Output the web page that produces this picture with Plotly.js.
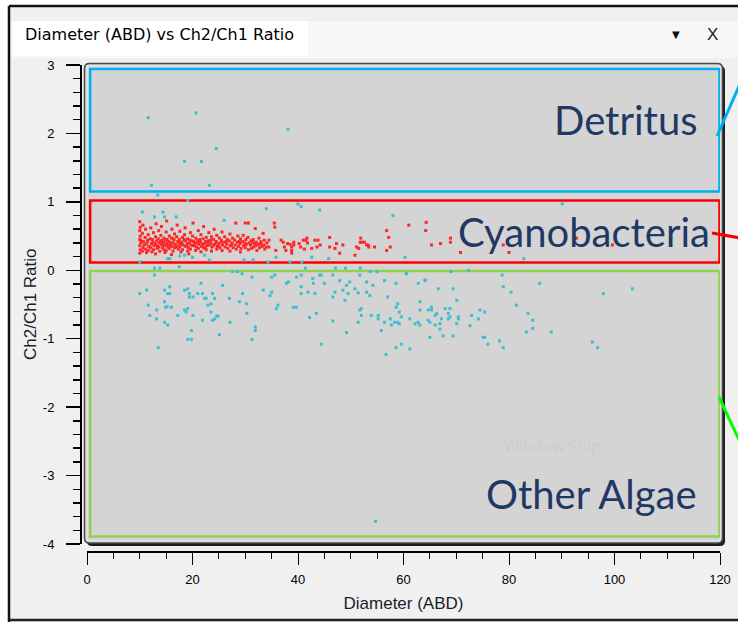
<!DOCTYPE html>
<html><head><meta charset="utf-8">
<script src="https://cdn.plot.ly/plotly-3.0.1.min.js"></script>
<style>html,body{margin:0;padding:0;background:#fff;} #chart{width:738px;height:622px;}</style>
</head><body><div id="chart"></div>
<script>
// ---------- axis settings ----------
const xRange = [0, 120];
const yRange = [-4, 3];
const xTicks = [0, 20, 40, 60, 80, 100, 120];
const yTicks = [-4, -3, -2, -1, 0, 1, 2, 3];
const yTickText = ['-4', '-3', '-2', '-1', '0', '1', '2', '3'];
const xTitle = 'Diameter (ABD)';
const yTitle = 'Ch2/Ch1 Ratio';

// ---------- gate regions ----------
const regionNames = ['Detritus', 'Cyanobacteria', 'Other Algae'];
const regionColors = ['#00b0f0', '#ff0000', '#92d050'];
const regionX0 = [0.6, 0.6, 0.6];
const regionX1 = [119.9, 119.9, 119.9];
const regionY0 = [1.15, 0.115, -3.89];
const regionY1 = [2.94, 1.02, -0.01];
const labelX = [116.3, 118.4, 116.1];
const labelY = [2.20, 0.56, -3.27];

// ---------- red points (Cyanobacteria) ----------
const redCore1 = [[10.0,.71],[10.1,.63],[10.0,.58],[10.1,.50],[10.0,.45],[10.2,.40],[10.0,.36],[10.1,.30],[10.0,.25],
 [10.6,.66],[10.5,.54],[10.7,.42],[10.6,.33],[10.5,.28],[11.1,.60],[11.0,.48],[11.2,.38],[11.1,.31],[11.3,.26],
 [11.6,.52],[11.5,.44],[11.7,.35],[11.6,.29],[12.1,.62],[12.0,.46],[12.2,.39],[12.1,.33],[12.3,.27],
 [12.6,.55],[12.5,.41],[12.7,.36],[12.6,.30],[13.1,.68],[13.0,.49],[13.2,.43],[13.1,.37],[13.3,.32],[13.0,.24],
 [13.6,.58],[13.5,.46],[13.7,.40],[13.6,.34],[13.8,.28],[14.1,.64],[14.0,.51],[14.2,.44],[14.1,.38],[14.3,.33],
 [14.6,.47],[14.5,.41],[14.7,.36],[14.6,.30],[14.8,.26],[15.1,.72],[15.0,.56],[15.2,.45],[15.1,.39],[15.3,.34],[15.0,.29]];
const redCore2 = [[15.6,.50],[15.5,.42],[15.7,.37],[15.6,.32],[16.1,.60],[16.0,.47],[16.2,.40],[16.1,.35],[16.3,.28],[16.0,.23],
 [16.6,.53],[16.5,.44],[16.7,.38],[16.6,.33],[17.1,.66],[17.0,.49],[17.2,.42],[17.1,.36],[17.3,.31],
 [17.6,.57],[17.5,.45],[17.7,.39],[17.6,.34],[17.8,.27],[18.1,.48],[18.0,.41],[18.2,.37],[18.1,.30],
 [18.6,.62],[18.5,.52],[18.7,.43],[18.6,.35],[19.1,.46],[19.0,.39],[19.2,.33],[19.1,.28],[19.3,.24],
 [19.6,.55],[19.5,.44],[19.7,.37],[19.6,.31],[20.1,.69],[20.0,.50],[20.2,.42],[20.1,.36],
 [20.6,.47],[20.5,.40],[20.7,.34],[20.6,.29],[21.1,.58],[21.0,.44],[21.2,.38],[21.1,.32],
 [21.6,.52],[21.5,.41],[21.7,.35],[21.6,.27],[22.1,.64],[22.0,.46],[22.2,.39],[22.1,.33]];
const redCore3 = [[22.6,.48],[22.5,.42],[22.7,.36],[22.6,.30],[23.1,.55],[23.0,.43],[23.2,.37],
 [23.6,.49],[23.5,.40],[23.7,.34],[23.6,.28],[24.1,.60],[24.0,.45],[24.2,.38],
 [24.6,.51],[24.5,.42],[24.7,.35],[24.6,.31],[25.1,.47],[25.0,.39],[25.2,.33],
 [25.6,.56],[25.5,.44],[25.7,.37],[25.6,.29],[26.1,.49],[26.0,.41],[26.2,.34],
 [26.6,.45],[26.5,.38],[26.7,.32],[27.1,.53],[27.0,.43],[27.2,.36],[27.1,.28],
 [27.6,.47],[27.5,.40],[27.7,.33],[28.2,.69],[28.0,.44],[28.1,.37],[28.3,.31],
 [28.6,.50],[28.5,.41],[28.7,.35],[29.1,.46],[29.0,.39],[29.2,.32],[29.1,.27],
 [29.6,.51],[29.5,.42],[29.7,.36],[30.0,.69],[30.1,.45],[30.2,.38],[30.0,.33],
 [30.6,.69],[30.5,.48],[30.7,.40],[30.6,.30],[31.1,.43],[31.0,.37],[31.2,.32],
 [31.9,.61],[31.5,.45],[31.7,.39],[31.6,.34],[32.1,.41],[32.0,.36],[32.2,.29],
 [32.6,.47],[32.5,.38],[32.7,.33],[33.4,.54],[33.0,.42],[33.2,.35],[33.6,.44],[33.5,.37],[33.7,.31],[34.1,.40],[34.0,.34]];
const redCore4 = [[10.3,.43],[10.8,.37],[11.4,.41],[11.9,.34],[12.4,.45],[12.9,.39],[13.4,.35],[13.9,.42],[14.4,.38],[14.9,.44],[15.4,.36],[15.9,.40],
 [16.4,.46],[16.9,.34],[17.4,.41],[17.9,.38],[18.4,.45],[18.9,.36],[19.4,.40],[19.9,.43],[20.4,.37],[20.9,.41],[21.4,.45],[21.9,.38],
 [22.4,.33],[22.9,.40],[23.4,.44],[23.9,.36],[24.4,.40],[24.9,.35],[25.4,.41],[26.4,.42],[27.4,.37],[28.9,.42],[29.9,.40],[31.4,.41],[32.9,.39]];
const redSparse = [[34.5,.44],[34.5,.34],[35.5,.69],[35.6,.63],[35.8,.29],[36.8,.44],[37.2,.41],[37.4,.34],[37.7,.29],[38.0,.39],
 [38.5,.38],[38.8,.34],[38.8,.29],[38.8,.25],[39.2,.41],[39.2,.37],[40.2,.39],[40.5,.34],[41.0,.44],[41.5,.44],
 [41.7,.47],[41.2,.31],[41.8,.40],[42.6,.32],[43.2,.44],[43.8,.44],[43.6,.34],[44.2,.37],[46.0,.48],[46.0,.34],
 [47.0,.32],[47.3,.39],[47.9,.25],[48.5,.37],[50.8,.22],[51.1,.34],[51.5,.32],[51.9,.47],[52.1,.41],[51.8,.41],
 [52.6,.41],[53.0,.37],[53.3,.37],[53.4,.34],[54.5,.34],[56.8,.58],[57.2,.48],[56.8,.29],[57.5,.34],[61.0,.66],
 [64.3,.70],[64.2,.58],[65.3,.37],[67.0,.39],[68.9,.47],[68.9,.41],[70.8,.26],[77.9,.48],[78.9,.37],[80.0,.26],[92.8,.47],[99.6,.37]];

// ---------- cyan points (other particles) ----------
const cyanHigh = [[11.6,2.23],[20.7,2.30],[38.1,2.06],[24.5,1.78],[18.5,1.59],[21.7,1.59],[12.2,1.24],[23.2,1.24],[13.4,1.10],
 [10.5,0.85],[12.8,0.78],[14.4,0.85],[14.7,0.78],[16.9,0.78],[19.1,1.02],[26.0,0.73],[34.0,0.90],[40.0,0.97],[40.6,0.93],
 [44.1,0.88],[58.0,0.80],[90.1,0.97]];
const cyanZero = [[10.0,0.12],[15.3,0.17],[15.7,0.17],[17.6,0.21],[18.5,0.22],[20.0,0.19],[22.3,0.22],[23.2,0.15],[29.8,0.15],
 [31.5,0.15],[34.3,0.12],[35.8,0.19],[38.5,0.12],[40.7,0.12],[42.6,0.19],[41.4,0.03],[45.8,0.17],[47.1,0.03],[49.0,0.03],
 [51.8,0.03],[12.8,0.03],[13.8,0.03],[17.5,0.05],[60.3,0.19],[82.8,0.17],[60.6,-0.05],[69.0,-0.02],[72.3,0.0],[78.7,-0.07],[64.1,-0.14]];
const cyanLowA = [[10.0,-0.34],[11.3,-0.29],[12.8,-0.07],[11.6,-0.51],[11.9,-0.66],[13.2,-0.58],[13.2,-0.71],[13.5,-1.13],
 [14.7,-0.29],[15.7,-0.24],[15.3,-0.34],[15.7,-0.34],[14.7,-0.46],[14.9,-0.54],[15.2,-0.53],[16.0,-0.54],[14.7,-0.76],[15.3,-0.80],[17.2,-0.66],
 [18.5,-0.29],[19.1,-0.27],[19.4,-0.34],[19.4,-0.39],[20.1,-0.39],[18.5,-0.58],[18.8,-0.61],[19.1,-0.56],[20.1,-0.66],[19.8,-0.88],[19.1,-1.01],[19.8,-1.01],
 [21.0,-0.34],[21.6,-0.19],[21.9,-0.34],[22.3,-0.41],[22.6,-0.41],[22.9,-0.51],[21.9,-0.73],[23.5,-0.49],[23.5,-0.61],[23.8,-0.34],[23.8,-0.73],
 [24.2,-0.71],[24.2,-0.41],[24.6,-0.67],[24.8,-0.67],[25.1,-0.94],[25.7,-0.22],[27.0,-0.41],[27.1,-0.76],[27.6,-0.02],[28.5,-0.02],[28.9,-0.46],
 [29.4,-0.05],[29.5,-0.34],[30.2,-0.49],[30.3,-0.63],[31.3,-0.10],[31.3,-1.01],[31.9,-0.83],[31.9,-0.88],[33.4,-0.29],[34.7,-0.37],[35.0,-0.32],
 [35.0,-0.10],[35.6,-0.07],[35.9,-0.56],[36.2,-0.51],[37.8,-0.19],[38.2,-0.17],[39.1,-0.54],[39.7,-0.54],[39.7,-0.10],[40.6,-0.07],[40.6,-0.24],[40.6,-0.34]];
const cyanLowB = [[41.9,-0.32],[42.2,-0.69],[42.8,-0.12],[42.9,-0.19],[43.2,-0.34],[43.5,-0.63],[44.1,-0.07],[44.4,-0.07],[44.4,-1.08],[45.0,-0.19],
 [46.6,-0.07],[46.6,-0.39],[47.0,-0.32],[46.6,-0.74],[47.9,-0.15],[48.5,-0.29],[48.9,-0.44],[49.2,-0.22],[49.5,-0.34],[49.2,-0.91],[49.8,-0.17],
 [50.8,-0.27],[51.4,-0.33],[51.4,-0.76],[51.7,-0.07],[51.7,-0.58],[52.0,-0.56],[52.0,-0.66],[53.0,-0.17],[53.0,-0.32],[53.6,-0.37],[53.9,-0.66],
 [54.2,-0.22],[55.2,-0.66],[55.2,-0.71],[55.8,-0.88],[56.4,-0.15],[56.4,-0.76],[56.7,-1.23],[57.0,-0.39],[57.5,-0.71],[57.7,-0.80],[58.3,-0.76],
 [58.9,-0.76],[59.2,-0.78],[58.6,-0.19],[58.6,-0.54],[58.9,-0.49],[59.2,-0.61],[58.6,-1.13],[59.6,-1.08],[59.6,-0.68],[60.5,-0.05],[53.7,-0.02],[55.0,-0.02]];
const cyanLowC = [[62.8,-0.19],[64.1,-0.15],[63.1,-0.46],[63.1,-0.58],[61.2,-0.71],[61.2,-1.15],[62.2,-0.78],[62.8,-0.76],[63.1,-0.80],
 [64.7,-0.58],[65.3,-0.58],[65.3,-0.54],[64.7,-0.73],[65.0,-0.76],[65.0,-0.98],[66.0,-0.66],[66.3,-0.63],[66.0,-0.80],[66.6,-0.27],
 [66.9,-0.78],[66.9,-0.86],[67.2,-0.71],[67.5,-0.96],[67.9,-0.56],[68.5,-0.63],[68.5,-0.71],[68.8,-0.56],[68.8,-0.68],[69.4,-0.27],
 [69.4,-0.96],[70.1,-0.44],[70.1,-0.78],[70.4,-0.71],[70.4,-0.68],[72.6,-0.81],[72.9,-0.66],[74.2,-0.71],[74.5,-0.58],[75.1,-0.98],
 [75.4,-0.98],[75.4,-0.61],[76.0,-1.08],[78.2,-1.03],[78.9,-0.24],[78.9,-1.13],[80.4,-0.32],[81.4,-0.51],[83.3,-0.90],[83.6,-0.63],
 [84.5,-0.73],[84.5,-0.85],[85.8,-0.19],[88.0,-0.90],[95.8,-1.05],[96.8,-1.13],[97.9,-0.34],[103.4,-0.27],[54.7,-3.67]];

const redPts = [].concat(redCore1, redCore2, redCore3, redCore4, redSparse);
const cyanPts = [].concat(cyanHigh, cyanZero, cyanLowA, cyanLowB, cyanLowC);

// ---------- page geometry helpers (pixels -> paper) ----------
const PL = 80, PW = 640, PT = 65, PH = 486;
const PX = p => (p - PL) / PW;
const PY = p => (PT + PH - p) / PH;
function rectPx(x0, y0, x1, y1, fill, line, lw) {
  return {type:'rect', xref:'paper', yref:'paper', x0:PX(x0), x1:PX(x1), y0:PY(y1), y1:PY(y0),
    fillcolor: fill || 'rgba(0,0,0,0)', line:{color: line || 'rgba(0,0,0,0)', width: lw || 0}, layer:'below'};
}
function linePx(x0, y0, x1, y1, color, w, layer) {
  return {type:'line', xref:'paper', yref:'paper', x0:PX(x0), x1:PX(x1), y0:PY(y0), y1:PY(y1),
    line:{color:color, width:w}, layer: layer || 'below'};
}
function roundPx(x0, y0, x1, y1, r, fill, line, lw) {
  const rx = r / PW, ry = r / PH;
  const a = PX(x0), b = PX(x1), t = PY(y0), u = PY(y1);
  const p = `M${a+rx},${t} L${b-rx},${t} Q${b},${t} ${b},${t-ry} L${b},${u+ry} Q${b},${u} ${b-rx},${u} L${a+rx},${u} Q${a},${u} ${a},${u+ry} L${a},${t-ry} Q${a},${t} ${a+rx},${t} Z`;
  return {type:'path', xref:'paper', yref:'paper', path:p, fillcolor:fill || 'rgba(0,0,0,0)',
    line:{color: line || 'rgba(0,0,0,0)', width: lw || 0}, layer:'below'};
}

const shapes = [
  rectPx(0, 0, 738, 6, '#ffffff'),
  rectPx(0, 0, 9, 622, '#ffffff'),
  rectPx(11, 21, 738, 58, '#f7f7f7'),
  rectPx(13, 21, 308, 56, '#ffffff'),
  linePx(9, 6, 738, 6, '#111111', 2.5),
  linePx(9, 6, 9, 622, '#111111', 2.5),
  linePx(9, 620, 738, 620, '#222222', 2.5),
  roundPx(87, 66, 725, 546, 5, '#1e1e1e'),
  roundPx(84.5, 63.5, 722.5, 543, 5, '#d4d4d4', '#4a4a4a', 1.5),
  rectPx(87, 66, 720, 541, 'rgba(0,0,0,0)', '#ececec', 1),
];
for (let i = 0; i < regionNames.length; i++) {
  shapes.push({type:'rect', xref:'x', yref:'y', x0:regionX0[i], x1:regionX1[i], y0:regionY0[i], y1:regionY1[i],
    line:{color:regionColors[i], width:2.5}, fillcolor:'rgba(0,0,0,0)', layer:'below'});
}
// pointer lines leaving the chart on the right
shapes.push(linePx(717, 136, 740, 84, '#00b0f0', 3, 'above'));
shapes.push(linePx(712, 233, 740, 238, '#ff0000', 3, 'above'));
shapes.push(linePx(719, 397, 740, 442, '#00ff00', 3, 'above'));

const titleFont = {family:'"Liberation Sans", Arial, sans-serif', size:17, color:'#1c1c2c'};
const tickFont = {family:'"Liberation Sans", Arial, sans-serif', size:13, color:'#000'};

const annotations = [];
for (let i = 0; i < regionNames.length; i++) {
  annotations.push({xref:'x', yref:'y', x:labelX[i], y:labelY[i], text:regionNames[i], showarrow:false,
    xanchor:'right', yanchor:'middle', font:{family:'Lato, "Open Sans", sans-serif', size:40, color:'#1f3864'}});
}
annotations.push({xref:'x', yref:'y', x:88.3, y:-2.57, text:'Window Snip', showarrow:false, xanchor:'center', yanchor:'middle',
  font:{family:'"Open Sans", sans-serif', size:16, color:'#cdcdcd'}});
annotations.push({xref:'paper', yref:'paper', x:PX(23), y:PY(35), text:'Diameter (ABD) vs Ch2/Ch1 Ratio', showarrow:false,
  xanchor:'left', yanchor:'middle', font:{family:'"DejaVu Sans", sans-serif', size:16, color:'#000'}});
annotations.push({xref:'paper', yref:'paper', x:PX(676), y:PY(34), text:'▼', showarrow:false,
  xanchor:'center', yanchor:'middle', font:{family:'"DejaVu Sans", sans-serif', size:10, color:'#111'}});
annotations.push({xref:'paper', yref:'paper', x:PX(712), y:PY(34), text:'X', showarrow:false,
  xanchor:'center', yanchor:'middle', font:{family:'"Liberation Sans", Arial, sans-serif', size:17, color:'#222'}});
// y-axis title placed precisely (free-anchored axis ignores standoff)
annotations.push({xref:'paper', yref:'paper', x:PX(30), y:PY(304), text:yTitle, showarrow:false, textangle:-90,
  xanchor:'center', yanchor:'middle', font:titleFont});

const traces = [
  {type:'scatter', mode:'markers', x:cyanPts.map(p => p[0]), y:cyanPts.map(p => p[1]), name:'Other',
   marker:{color:'#3dbfcf', size:3, symbol:'square', line:{width:0}}, hoverinfo:'x+y'},
  {type:'scatter', mode:'markers', x:redPts.map(p => p[0]), y:redPts.map(p => p[1]), name:'Cyanobacteria',
   marker:{color:'#ff2626', size:3, symbol:'square', line:{width:0}}, hoverinfo:'x+y'}
];

const layout = {
  width:738, height:622,
  margin:{l:PL, r:738 - PL - PW, t:PT, b:622 - PT - PH, pad:0},
  paper_bgcolor:'#f0f0f0', plot_bgcolor:'rgba(0,0,0,0)',
  showlegend:false,
  xaxis:{domain:[7/PW, 1], anchor:'free', position:0, range:xRange, tickmode:'array', tickvals:xTicks,
    ticks:'outside', ticklen:12, tickwidth:1, tickcolor:'#000', showline:true, linecolor:'#000', linewidth:1.5,
    showgrid:false, zeroline:false, tickfont:tickFont, ticklabelstandoff:4,
    minor:{tickmode:'linear', tick0:0, dtick:5, ticks:'outside', ticklen:6, tickcolor:'#000', tickwidth:1, showgrid:false},
    title:{text:xTitle, font:titleFont, standoff:11}, fixedrange:true},
  yaxis:{domain:[7/PH, 1], anchor:'free', position:0, range:yRange, tickmode:'array', tickvals:yTicks, ticktext:yTickText,
    ticks:'outside', ticklen:14, tickwidth:1.5, tickcolor:'#000', showline:true, linecolor:'#000', linewidth:1.5,
    showgrid:false, zeroline:false, tickfont:tickFont, ticklabelstandoff:9,
    minor:{tickmode:'linear', tick0:0, dtick:0.2, ticks:'outside', ticklen:7, tickcolor:'#000', tickwidth:1.5, showgrid:false},
    title:{text:''}, fixedrange:true},
  shapes:shapes,
  annotations:annotations
};

Plotly.newPlot('chart', traces, layout, {staticPlot:true, displayModeBar:false});
</script>
</body></html>
